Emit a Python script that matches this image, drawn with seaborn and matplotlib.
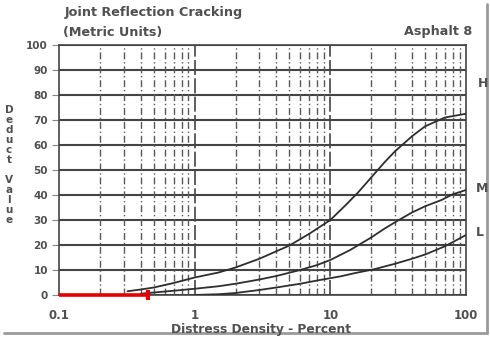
import numpy as np
import pandas as pd
import matplotlib
matplotlib.use("Agg")
import matplotlib.pyplot as plt
import seaborn as sns

# Deduct value curves for joint reflection cracking (asphalt), by severity
h_density = [0.32, 0.4, 0.5, 0.7, 1, 1.5, 2, 3, 4, 5, 7, 10, 13, 16, 20, 25, 30, 40, 50, 70, 100]
h_deduct = [1.5, 2.2, 3, 4.8, 7, 9, 11, 14.5, 17.5, 19.8, 24.5, 30, 36, 41, 47, 53, 57.5, 63.5, 67.5, 71, 72.5]

m_density = [0.4, 0.5, 0.7, 1, 1.5, 2, 3, 4, 6, 8, 10, 14, 20, 25, 32, 40, 50, 66, 80, 100]
m_deduct = [0.5, 1, 1.7, 2.5, 3.5, 4.5, 6.2, 7.6, 10, 12, 14, 18, 23, 26.5, 30, 33, 35.5, 38, 40.3, 42]

l_density = [1, 1.5, 2, 3, 4, 6, 8, 12, 15, 21, 30, 40, 50, 70, 100]
l_deduct = [0, 0.3, 0.8, 2, 3, 4.5, 5.8, 7.5, 8.7, 10.3, 12.5, 14.5, 16.2, 19.5, 24]

# Highlighted density range along the zero line
mark_density = [0.1, 0.45]
mark_deduct = [0, 0]

y_ticks = [0, 10, 20, 30, 40, 50, 60, 70, 80, 90, 100]
x_ticks = [0.1, 1, 10, 100]
x_tick_labels = ["0.1", "1", "10", "100"]

df = pd.concat([
    pd.DataFrame({"density": h_density, "deduct": h_deduct, "severity": "H"}),
    pd.DataFrame({"density": m_density, "deduct": m_deduct, "severity": "M"}),
    pd.DataFrame({"density": l_density, "deduct": l_deduct, "severity": "L"}),
])

sns.set_theme(style="white")
plt.rcParams["font.family"] = ["DejaVu Sans"]
ink = "#505050"

W, H = 490, 339
fig = plt.figure(figsize=(W / 100, H / 100), dpi=100)
ax = fig.add_axes([59 / W, 44 / H, 407 / W, 250 / H])


def fx(px):
    return px / W


def fy(py):
    return 1 - py / H


ax.set_xscale("log")
ax.set_xlim(0.1, 100)
ax.set_ylim(0, 100)

# grid: solid horizontal rules, broken vertical log rules
for y in y_ticks:
    ax.axhline(y, color="#444444", lw=1.5, zorder=1)
for dec in [0.1, 1, 10]:
    for k in range(2, 10):
        ax.axvline(dec * k, color="#5a5a5a", lw=1.0, ls=(0, (5, 2, 1, 2)), zorder=1)
for v in [1, 10]:
    ax.axvline(v, color="#444444", lw=1.2, ls=(0, (9, 2)), zorder=1)

sns.lineplot(data=df, x="density", y="deduct", hue="severity",
             palette={"H": "#2e2e2e", "M": "#2e2e2e", "L": "#2e2e2e"},
             lw=1.3, legend=False, ax=ax, sort=True, zorder=3)

ax.plot(mark_density, mark_deduct, color="#e60000", lw=2.6, solid_capstyle="butt",
        marker="|", markevery=[1], markersize=7, mew=3, zorder=5, clip_on=False)

for spine in ["left", "right", "bottom", "top"]:
    ax.spines[spine].set_visible(True)
    ax.spines[spine].set_color("#444444")
    ax.spines[spine].set_linewidth(1.2)

ax.set_yticks(y_ticks)
ax.set_yticklabels([str(v) for v in y_ticks])
ax.set_xticks(x_ticks)
ax.set_xticklabels(x_tick_labels)
ax.minorticks_off()
ax.tick_params(axis="y", which="major", left=True, length=5, width=0.8, color="#888888",
               labelsize=7.5, labelcolor=ink, pad=3)
ax.tick_params(axis="x", which="major", bottom=False, labelsize=8.5, labelcolor=ink, pad=4)
for lbl in ax.get_xticklabels() + ax.get_yticklabels():
    lbl.set_fontweight("bold")
ax.set_xlabel("")
ax.set_ylabel("")

# curve labels at the right end
for lab, px, py in [("H", 483, 84), ("M", 482, 188), ("L", 480, 233)]:
    fig.text(fx(px), fy(py), lab, fontsize=9, color=ink,
             fontweight="bold", ha="center", va="center")

fig.text(fx(65), fy(12.5), "Joint Reflection Cracking", fontsize=9.2, color=ink,
         fontweight="bold", ha="left", va="center")
fig.text(fx(63), fy(32.5), "(Metric Units)", fontsize=9.2, color=ink,
         fontweight="bold", ha="left", va="center")
fig.text(fx(472), fy(31.5), "Asphalt 8", fontsize=9.2, color=ink,
         fontweight="bold", ha="right", va="center")
fig.text(fx(261), fy(329), "Distress Density - Percent", fontsize=8.8, color=ink,
         fontweight="bold", ha="center", va="center")

# vertical stacked axis title
ylab = "Deduct Value"
py = 110
for ch in ylab:
    if ch == " ":
        py += 10
        continue
    fig.text(fx(9), fy(py), ch, fontsize=7.5, color=ink,
             fontweight="bold", ha="center", va="center")
    py += 10

# page edge rules
fig.add_artist(plt.Line2D([fx(487), fx(487)], [fy(333), fy(4)], color="#9a9a9a", lw=2,
                          transform=fig.transFigure))
fig.add_artist(plt.Line2D([fx(4), fx(487)], [fy(333), fy(333)], color="#9a9a9a", lw=2,
                          transform=fig.transFigure))

fig.savefig("out.png", dpi=100)
